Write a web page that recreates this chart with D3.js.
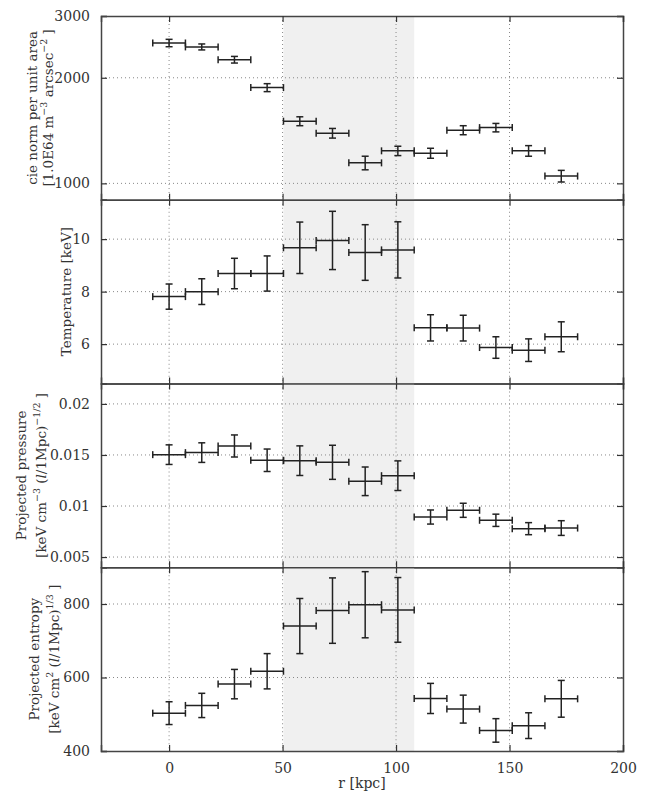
<!DOCTYPE html>
<html lang="en">
<head>
<meta charset="UTF-8">
<title>Radial profiles</title>
<script src="https://d3js.org/d3.v7.min.js"></script>
<style>
  body { margin: 0; background: #fff; }
  text { font-family: "DejaVu Serif", serif; fill: #333; }
</style>
</head>
<body>
<div id="chart"></div>
<script>
// bin centres and half widths [kpc]
const r    = [0, 14.4, 28.8, 43.2, 57.6, 72.0, 86.4, 100.8, 115.2, 129.6, 144.0, 158.4, 172.8];
const rErr = [7.2, 7.2, 7.2, 7.2, 7.2, 7.2, 7.2, 7.2, 7.2, 7.2, 7.2, 7.2, 7.2];

const normVals = [2513, 2449, 2252, 1875, 1504, 1390, 1144, 1238, 1219, 1418, 1442, 1238, 1049];
const normErr  = [61, 48, 49, 49, 44, 44, 51, 38, 40, 42, 40, 43, 40];

const tempVals = [7.81, 8.0, 8.69, 8.69, 9.67, 9.95, 9.49, 9.59, 6.62, 6.61, 5.87, 5.77, 6.28];
const tempErr  = [0.48, 0.49, 0.58, 0.67, 0.98, 1.11, 1.06, 1.07, 0.50, 0.49, 0.41, 0.43, 0.57];

const presVals = [0.01503, 0.01523, 0.01588, 0.01448, 0.01444, 0.01428, 0.01242, 0.01297, 0.00892, 0.00958, 0.0086, 0.00778, 0.00784];
const presErr  = [0.00096, 0.00096, 0.00108, 0.0011, 0.00145, 0.00167, 0.0014, 0.00145, 0.00069, 0.00069, 0.0006, 0.00059, 0.00072];

const entrVals = [503, 524, 582, 617, 740, 782, 798, 784, 543, 514, 456, 469, 542];
const entrErr  = [31, 33, 40, 48, 75, 89, 90, 88, 41, 38, 32, 35, 50];

const shadeRange = [50.4, 108];
const xTicks = [0, 50, 100, 150, 200];
const normTicks = [1000, 2000, 3000];
const tempTicks = [6, 8, 10];
const presTicks = [0.005, 0.01, 0.015, 0.02];
const entrTicks = [400, 600, 800];

const W = 654, H = 792;
const left = 101, right = 623, top0 = 16, ph = 183.75;

const svg = d3.select("#chart").append("svg")
  .attr("width", W).attr("height", H);

const x = d3.scaleLinear().domain([-30, 200]).range([left, right]);

const panels = [
  { vals: normVals, err: normErr, ticks: normTicks, log: true, domain: [898, 3000],
    fmt: d3.format("d"),
    label: [[{t: "cie norm per unit area"}],
            [{t: "[1.0E64 m"}, {t: "\u22123", sup: true}, {t: "  arcsec"}, {t: "\u22122", sup: true}, {t: " ]"}]],
    labelX: [32, 48] },
  { vals: tempVals, err: tempErr, ticks: tempTicks, domain: [4.5, 11.5],
    fmt: d3.format("d"),
    label: [[{t: "Temperature [keV]"}]],
    labelX: [66] },
  { vals: presVals, err: presErr, ticks: presTicks, domain: [0.004, 0.022],
    fmt: d => String(+d.toFixed(3)),
    label: [[{t: "Projected pressure"}],
            [{t: "[keV cm"}, {t: "\u22123", sup: true}, {t: "  ("}, {t: "l", it: true}, {t: "/1Mpc)"}, {t: "\u22121/2", sup: true}, {t: " ]"}]],
    labelX: [21, 41] },
  { vals: entrVals, err: entrErr, ticks: entrTicks, domain: [400, 900],
    fmt: d3.format("d"),
    label: [[{t: "Projected entropy"}],
            [{t: "[keV cm"}, {t: "2", sup: true}, {t: "  ("}, {t: "l", it: true}, {t: "/1Mpc)"}, {t: "1/3", sup: true}, {t: " ]"}]],
    labelX: [34, 54] }
];

panels.forEach((p, i) => {
  const top = top0 + i * ph, bot = top + ph;
  const y = (p.log ? d3.scaleLog() : d3.scaleLinear()).domain(p.domain).range([bot, top]);
  const g = svg.append("g");

  // shaded region
  g.append("rect")
    .attr("x", x(shadeRange[0])).attr("y", top)
    .attr("width", x(shadeRange[1]) - x(shadeRange[0])).attr("height", ph)
    .attr("fill", "#f0f0f0");

  // grid
  g.selectAll(".gx").data(xTicks.filter(t => x(t) > left + 1 && x(t) < right - 1)).join("line")
    .attr("x1", d => x(d)).attr("x2", d => x(d)).attr("y1", top).attr("y2", bot)
    .attr("stroke", "#888").attr("stroke-width", 1).attr("stroke-dasharray", "1,3");
  g.selectAll(".gy").data(p.ticks.filter(t => y(t) > top + 1 && y(t) < bot - 1)).join("line")
    .attr("x1", left).attr("x2", right).attr("y1", d => y(d)).attr("y2", d => y(d))
    .attr("stroke", "#888").attr("stroke-width", 1).attr("stroke-dasharray", "1,3");

  // error bars
  const eb = g.append("g").attr("stroke", "#222").attr("stroke-width", 1.5).attr("fill", "none");
  const cap = 3.5;
  r.forEach((rv, k) => {
    const cx = x(rv), cy = y(p.vals[k]);
    const x0 = x(rv - rErr[k]), x1 = x(rv + rErr[k]);
    const y0 = y(p.vals[k] - p.err[k]), y1 = y(p.vals[k] + p.err[k]);
    eb.append("line").attr("x1", x0).attr("x2", x1).attr("y1", cy).attr("y2", cy);
    eb.append("line").attr("x1", cx).attr("x2", cx).attr("y1", y0).attr("y2", y1);
    eb.append("line").attr("x1", x0).attr("x2", x0).attr("y1", cy - cap).attr("y2", cy + cap);
    eb.append("line").attr("x1", x1).attr("x2", x1).attr("y1", cy - cap).attr("y2", cy + cap);
    eb.append("line").attr("x1", cx - cap).attr("x2", cx + cap).attr("y1", y0).attr("y2", y0);
    eb.append("line").attr("x1", cx - cap).attr("x2", cx + cap).attr("y1", y1).attr("y2", y1);
  });

  // axes with inward ticks
  const tl = 6;
  const yL = d3.axisLeft(y).tickValues(p.ticks).tickSize(-tl).tickPadding(tl + 5).tickFormat(p.fmt);
  const yR = d3.axisRight(y).tickValues(p.ticks).tickSize(-tl).tickFormat("");
  const xT = d3.axisTop(x).tickValues(xTicks).tickSize(-tl).tickFormat("");
  const xB = d3.axisBottom(x).tickValues(xTicks).tickSize(-tl).tickPadding(tl + 6)
    .tickFormat(i === panels.length - 1 ? d3.format("d") : "");

  const axes = [
    g.append("g").attr("transform", `translate(${left},0)`).call(yL),
    g.append("g").attr("transform", `translate(${right},0)`).call(yR),
    g.append("g").attr("transform", `translate(0,${top})`).call(xT),
    g.append("g").attr("transform", `translate(0,${bot})`).call(xB)
  ];
  axes.forEach(a => {
    a.select(".domain").attr("stroke", "#444").attr("stroke-width", 1.5);
    a.selectAll(".tick line").attr("stroke", "#333").attr("stroke-width", 1.2);
    a.selectAll(".tick text").attr("font-size", 14).attr("fill", "#333")
      .attr("font-family", "DejaVu Serif, serif");
  });

  // y label
  const cy = top + ph / 2;
  p.label.forEach((segs, li) => {
    const t = g.append("text")
      .attr("transform", `translate(${p.labelX[li]},${cy}) rotate(-90)`)
      .attr("text-anchor", "middle").attr("dy", "0.35em")
      .attr("font-size", 13.5);
    let shifted = false;
    segs.forEach(s => {
      const ts = t.append("tspan").text(s.t);
      if (s.sup) { ts.attr("font-size", 9.5).attr("dy", -6); shifted = true; }
      else if (shifted) { ts.attr("dy", 6); shifted = false; }
      if (s.it) ts.attr("font-style", "italic");
    });
  });
});

svg.append("text")
  .attr("x", x(85)).attr("y", 788)
  .attr("text-anchor", "middle").attr("font-size", 14)
  .text("r [kpc]");
</script>
</body>
</html>
